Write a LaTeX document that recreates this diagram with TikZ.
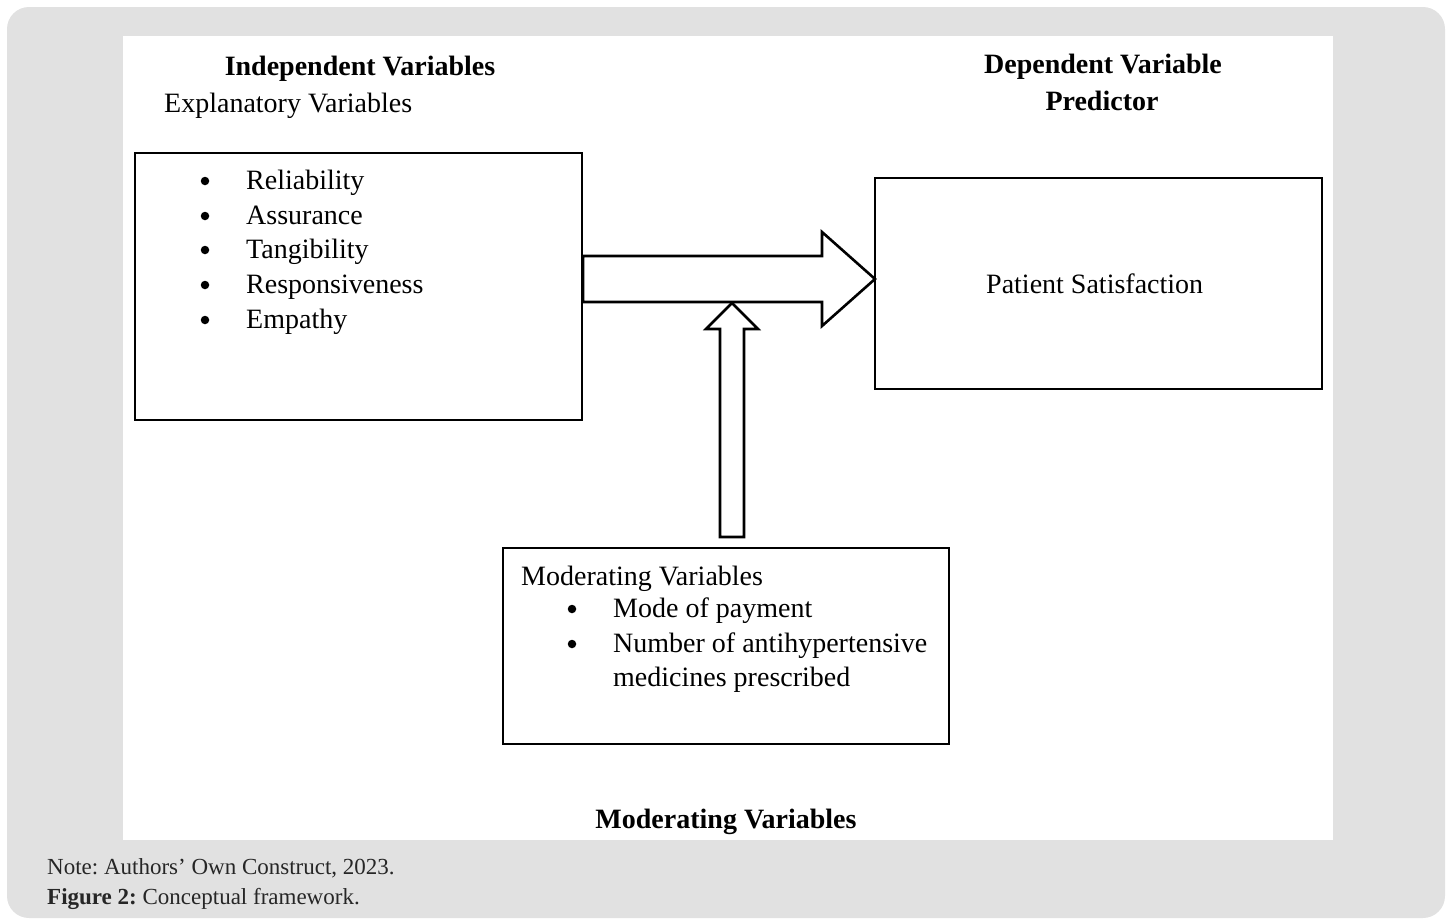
\documentclass[tikz,border=0pt]{standalone}
\usepackage{fontspec}
\setmainfont{Liberation Serif}
\frenchspacing
\newcommand{\dfont}{\fontsize{28}{33}\selectfont}
\newcommand{\nfont}{\fontsize{23}{27}\selectfont}
\definecolor{bggray}{HTML}{E1E1E1}
\begin{document}
\begin{tikzpicture}[x=1pt,y=-1pt,
  box/.style={draw=black, line width=1.2pt, inner sep=0pt, fill=white},
  lbl/.style={anchor=base west, inner sep=0pt, font=\dfont},
  head/.style={anchor=base, inner sep=0pt, font=\dfont\bfseries},
  note/.style={anchor=base west, inner sep=0pt, font=\nfont, text=black!85},
  bul/.style={circle, fill=black, inner sep=0pt, minimum size=8.5pt},
  fatarrow/.style={draw=black, line width=2.6pt, fill=white, line join=miter}]
\useasboundingbox (0,0) rectangle (1452,921);
\fill[bggray, rounded corners=22pt] (7,7) rectangle (1445,918);
\fill[white] (123,36) rectangle (1333,840);

% boxes
\node[box, minimum width=447pt, minimum height=267pt] (indep) at (358.5,286.5) {};
\node[box, minimum width=447pt, minimum height=211pt] (dep) at (1098.5,283.5) {};
\node[box, minimum width=446pt, minimum height=196pt] (mod) at (726,646) {};

% headings
\node[head] (hind) at (360,75) {Independent Variables};
\node[lbl] (hexp) at (164,112) {Explanatory Variables};
\node[head] (hdep) at (1103,73) {Dependent Variable};
\node[head] (hpred) at (1102,110) {Predictor};
\node[head] (hmodb) at (726,828) {Moderating Variables};

% independent list
\foreach \t/\yy [count=\i] in {Reliability/189, Assurance/224, Tangibility/258, Responsiveness/293, Empathy/328}{
  \node[bul] (ib\i) at (205,\yy-8) {};
  \node[lbl] (it\i) at (246,\yy) {\t};
}

% dependent
\node[lbl] (pat) at (986,293) {Patient Satisfaction};

% moderating list
\node[lbl] (mhead) at (521,585) {Moderating Variables};
\node[bul] (mb1) at (572,609) {};
\node[lbl] (mt1) at (613,617) {Mode of payment};
\node[bul] (mb2) at (572,644) {};
\node[lbl] (mt2) at (613,652) {Number of antihypertensive};
\node[lbl] (mt3) at (613,686) {medicines prescribed};

% block arrows
\draw[fatarrow] (583,256) -- (822,256) -- (822,232) -- (875,279) -- (822,326) -- (822,302) -- (583,302) -- cycle;
\draw[fatarrow] (720,537) -- (720,329) -- (706,329) -- (732,303) -- (758,329) -- (744,329) -- (744,537) -- cycle;

% note
\node[note] (n1) at (47,874) {Note: Authors’ Own Construct, 2023.};
\node[note] (n2) at (47,904) {\textbf{Figure 2:} Conceptual framework.};
\end{tikzpicture}
\end{document}
